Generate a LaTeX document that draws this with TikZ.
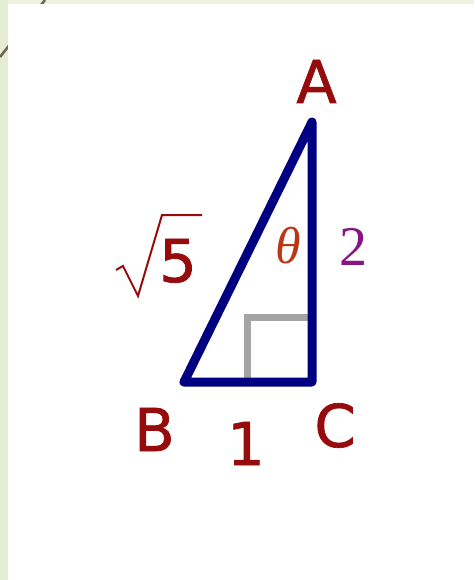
\documentclass[tikz,border=0pt]{standalone}
\usepackage{fontspec}
\newfontface\labfont[FakeBold=1.2]{DejaVu Sans}
\newfontfamily\serfont{Liberation Serif}
\definecolor{labred}{RGB}{150,12,12}
\definecolor{thetacol}{RGB}{185,55,20}
\definecolor{twocol}{RGB}{135,20,135}
\definecolor{navy}{RGB}{0,0,128}
\definecolor{sqgrey}{RGB}{165,165,165}
\definecolor{stripL}{RGB}{229,236,210}
\definecolor{stripT}{RGB}{238,241,222}
\definecolor{slash}{RGB}{110,100,80}
\begin{document}
\begin{tikzpicture}[x=1pt,y=-1pt,
  lab/.style={inner sep=0pt,anchor=base,text=labred,font=\labfont\fontsize{59}{59}\selectfont},
  tri/.style={draw=navy,line width=9pt,line join=round,line cap=round},
  sq/.style={draw=sqgrey,line width=7pt}]
\useasboundingbox (0,0) rectangle (474,580);
\fill[stripL] (0,0) rectangle (474,580);
\fill[stripT] (8,0) rectangle (474,4);
\draw[slash,line width=2.5pt] (0,57) -- (45,0);
\fill[white] (8,4) rectangle (474,580);
% triangle vertices
\coordinate (vA) at (312,122);
\coordinate (vB) at (184,382);
\coordinate (vC) at (312,382);
\coordinate (s1) at (247,382);
\coordinate (s2) at (247,317);
\coordinate (s3) at (312,317);
\draw[sq] (s1) -- (s2) -- (s3);
\draw[tri] (vA) -- (vB) -- (vC) -- cycle;
% labels
\node[lab] (A) at (316.5,103) {A};
\node[lab] (B) at (154.5,451) {B};
\node[lab] (C) at (335,447) {C};
\node[lab] (one) at (246,465) {1};
\node[lab] (five) at (178,282) {5};
\coordinate (r1) at (116,270);
\coordinate (r2) at (123,266);
\coordinate (r3) at (138,296);
\coordinate (r4) at (162,215);
\coordinate (r5) at (202,215);
\draw[labred,line width=2pt,line join=miter] (r1) -- (r2) -- (r3) -- (r4) -- (r5);
\node[inner sep=0pt,anchor=base,text=thetacol,font=\serfont\itshape\fontsize{52}{52}\selectfont] (theta) at (288,263) {θ};
\node[inner sep=0pt,anchor=base,text=twocol,font=\serfont\fontsize{56}{56}\selectfont] (two) at (353,265) {2};
\end{tikzpicture}
\end{document}
